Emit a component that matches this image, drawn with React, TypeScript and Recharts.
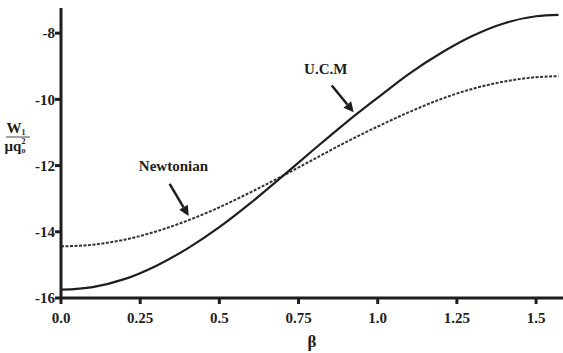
import React from 'react';
import { LineChart, Line, XAxis, YAxis, ReferenceLine, ReferenceDot } from 'recharts';

// beta (rad) and W1/(mu q0^2)
const beta = [0, 0.1, 0.2, 0.3, 0.4, 0.5, 0.6, 0.7, 0.8, 0.9, 1.0, 1.1, 1.2, 1.3, 1.4, 1.5, 1.5708];
const ucm = [-15.75, -15.67, -15.43, -15.03, -14.5, -13.86, -13.12, -12.32, -11.5, -10.7, -9.95, -9.22, -8.6, -8.08, -7.7, -7.49, -7.45];
const newtonian = [-14.44, -14.39, -14.24, -13.99, -13.66, -13.26, -12.8, -12.31, -11.8, -11.29, -10.82, -10.38, -9.99, -9.68, -9.46, -9.33, -9.3];

const xTicks = [0, 0.25, 0.5, 0.75, 1.0, 1.25, 1.5];
const xTickLabels = ['0.0', '0.25', '0.5', '0.75', '1.0', '1.25', '1.5'];
const yTicks = [-16, -14, -12, -10, -8];

// annotation text position and arrow (tail -> head), in data units
const notes = [
  { text: 'U.C.M', tx: 0.836, ty: -9.06, x1: 0.855, y1: -9.58, x2: 0.924, y2: -10.39 },
  { text: 'Newtonian', tx: 0.355, ty: -12.0, x1: 0.343, y1: -12.55, x2: 0.403, y2: -13.52 },
];

const data = beta.map((b, i) => ({ beta: b, ucm: ucm[i], newtonian: newtonian[i] }));

const FONT = 'Liberation Serif, DejaVu Serif, serif';
const INK = '#1e1e1e';

const Arrow = (props: any) => {
  const { x1, y1, x2, y2 } = props;
  const dx = x2 - x1;
  const dy = y2 - y1;
  const len = Math.sqrt(dx * dx + dy * dy);
  const ux = dx / len;
  const uy = dy / len;
  const hl = 10;
  const hw = 5;
  const bx = x2 - ux * hl;
  const by = y2 - uy * hl;
  return (
    <g>
      <line x1={x1} y1={y1} x2={bx} y2={by} stroke={INK} strokeWidth={2.5} />
      <polygon
        points={`${x2},${y2} ${bx - uy * hw},${by + ux * hw} ${bx + uy * hw},${by - ux * hw}`}
        fill={INK}
      />
    </g>
  );
};

const YLabel = (props: any) => {
  const { viewBox } = props;
  const cx = 18;
  const cy = viewBox.y + viewBox.height / 2 - 16;
  return (
    <g style={{ fontFamily: FONT, fontWeight: 'bold' }} fill={INK}>
      <text x={cx - 2} y={cy - 4} textAnchor="middle" fontSize={15}>
        W<tspan fontSize={8} dy={2}>1</tspan>
      </text>
      <line x1={cx - 12} y1={cy} x2={cx + 12} y2={cy} stroke="#666" strokeWidth={1.2} />
      <text x={cx - 3} y={cy + 14} textAnchor="middle" fontSize={15}>
        μq<tspan fontSize={8} dy={2}>o</tspan>
        <tspan fontSize={8} dx={-4} dy={-9}>2</tspan>
      </text>
    </g>
  );
};

export default function App() {
  return (
    <div style={{ position: 'absolute', left: 0, top: 0, background: '#fff', fontFamily: FONT }}>
      <LineChart width={563} height={353} data={data} margin={{ top: 8, right: 0, bottom: 0, left: 0 }}>
        <XAxis
          dataKey="beta"
          type="number"
          domain={[0, 1.585]}
          ticks={xTicks}
          tickFormatter={(v: number) => xTickLabels[xTicks.indexOf(v)]}
          allowDataOverflow
          height={55}
          axisLine={{ stroke: INK, strokeWidth: 3 }}
          tickLine={{ stroke: INK, strokeWidth: 3 }}
          tickSize={6}
          tick={{ fill: INK, style: { fontFamily: FONT }, fontWeight: 'bold', fontSize: 15, dy: 6 }}
          label={{ value: 'β', position: 'insideBottom', offset: 6, fill: INK, style: { fontFamily: FONT }, fontWeight: 'bold', fontSize: 17 }}
        />
        <YAxis
          type="number"
          domain={[-16, -7.24]}
          ticks={yTicks}
          allowDataOverflow
          width={61}
          axisLine={{ stroke: INK, strokeWidth: 3 }}
          tickLine={{ stroke: INK, strokeWidth: 3 }}
          tickSize={6}
          tick={{ fill: INK, style: { fontFamily: FONT }, fontWeight: 'bold', fontSize: 15, dx: 2 }}
          label={<YLabel />}
        />
        <Line
          type="monotone"
          dataKey="newtonian"
          stroke="#333"
          strokeWidth={2}
          strokeDasharray="3 1.5"
          dot={false}
          isAnimationActive={false}
        />
        <Line
          type="monotone"
          dataKey="ucm"
          stroke={INK}
          strokeWidth={2.2}
          dot={false}
          isAnimationActive={false}
        />
        {notes.map((n) => (
          <ReferenceLine
            key={n.text + '-arrow'}
            segment={[{ x: n.x1, y: n.y1 }, { x: n.x2, y: n.y2 }]}
            shape={<Arrow />}
            ifOverflow="visible"
          />
        ))}
        {notes.map((n) => (
          <ReferenceDot
            key={n.text}
            x={n.tx}
            y={n.ty}
            r={0}
            fill="none"
            stroke="none"
            ifOverflow="visible"
            label={{ value: n.text, position: 'center', fill: INK, style: { fontFamily: FONT }, fontWeight: 'bold', fontSize: 15 }}
          />
        ))}
      </LineChart>
    </div>
  );
}
